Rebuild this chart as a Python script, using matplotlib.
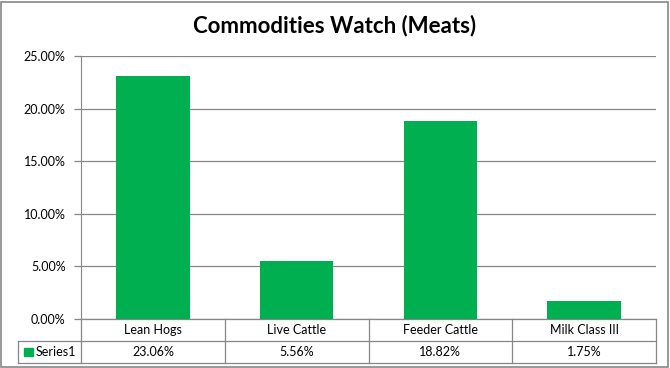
import matplotlib.pyplot as plt
from matplotlib.patches import Rectangle
from matplotlib.ticker import PercentFormatter

categories = ['Lean Hogs', 'Live Cattle', 'Feeder Cattle', 'Milk Class III']
values = [23.06, 5.56, 18.82, 1.75]
series_name = 'Series1'
title = 'Commodities Watch (Meats)'

W, H = 670, 368
fig = plt.figure(figsize=(W / 100, H / 100), dpi=100)
fig.patch.set_facecolor('white')

GRAY = '#868686'
GREEN = '#00B050'
FONT = ['Lato', 'DejaVu Sans']

# frame around the whole chart
fig.patches.append(Rectangle((1 / W, 1 / H), (W - 3) / W, (H - 3) / H,
                             transform=fig.transFigure, fill=False,
                             edgecolor=GRAY, linewidth=1.2))

# plot area in pixels: left 81, right 656, top 56, bottom 319
left, right, top, bottom = 81, 656, 56, 319
ax = fig.add_axes([left / W, (H - bottom) / H, (right - left) / W, (bottom - top) / H])

x = range(len(categories))
ax.bar(x, values, width=0.51, color=GREEN, zorder=3)
ax.set_xlim(-0.5, len(categories) - 0.5)
ax.set_ylim(0, 25)
ax.set_yticks([0, 5, 10, 15, 20, 25])
ax.yaxis.set_major_formatter(PercentFormatter(decimals=2))
ax.set_xticks([])
ax.yaxis.grid(True, color=GRAY, linewidth=0.9, zorder=0)
for s in ['top', 'right', 'bottom']:
    ax.spines[s].set_visible(False)
ax.spines['left'].set_color(GRAY)
ax.tick_params(axis='y', colors=GRAY, length=5, width=0.9, pad=6)
for lab in ax.get_yticklabels():
    lab.set_color('black')
    lab.set_fontsize(9)
    lab.set_family(FONT)

# data table under the plot
row_h = 22 / (bottom - top)
trans = ax.get_xaxis_transform()
n = len(categories)
x0, x1 = -0.5, n - 0.5
legend_x = x0 - (left - 18) / ((right - left) / n)
lk = dict(color=GRAY, linewidth=0.9, transform=trans, clip_on=False)
ax.plot([x0, x1], [0, 0], **lk)
ax.plot([legend_x, x1], [-row_h, -row_h], **lk)
ax.plot([legend_x, x1], [-2 * row_h, -2 * row_h], **lk)
ax.plot([legend_x, legend_x], [-row_h, -2 * row_h], **lk)
for i in range(n + 1):
    ax.plot([x0 + i, x0 + i], [0, -2 * row_h], **lk)

for i, (c, v) in enumerate(zip(categories, values)):
    ax.text(i, -row_h / 2, c, transform=trans, ha='center', va='center',
            fontsize=9, family=FONT)
    ax.text(i, -1.5 * row_h, f'{v:.2f}%', transform=trans, ha='center',
            va='center', fontsize=9, family=FONT)

# legend key in table (about 9x9 px)
ax.add_patch(Rectangle((legend_x + 0.04, -1.5 * row_h - 0.017), 0.062, 0.034,
                       transform=trans, color=GREEN, clip_on=False))
ax.text(legend_x + 0.12, -1.5 * row_h, series_name, transform=trans,
        ha='left', va='center', fontsize=9, family=FONT)

fig.text(0.5, (H - 26) / H, title, ha='center', va='center', fontsize=16,
         fontweight='bold', family=FONT)

fig.savefig('out.png', dpi=100, facecolor='white')
